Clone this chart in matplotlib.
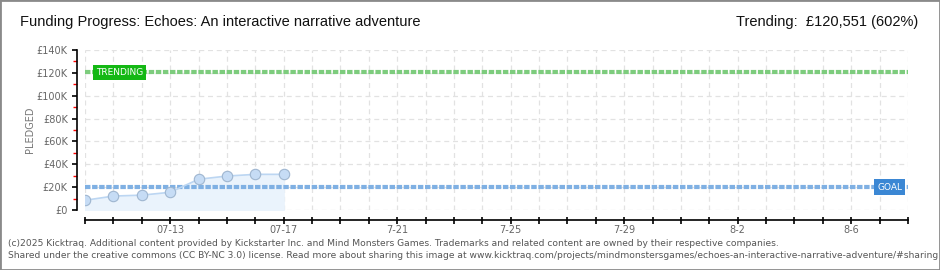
import numpy as np
import matplotlib
matplotlib.use("Agg")
import matplotlib.pyplot as plt
import matplotlib.dates as mdates
import matplotlib.transforms as mtransforms
from matplotlib.ticker import FuncFormatter, MultipleLocator

# data
dates = ["2025-07-10", "2025-07-11", "2025-07-12", "2025-07-13",
         "2025-07-14", "2025-07-15", "2025-07-16", "2025-07-17"]
pledged = [8500, 12200, 13000, 15500, 26900, 29700, 31200, 31200]
goal = 20000
trending = 120551
tick_dates = ["2025-07-13", "2025-07-17", "2025-07-21", "2025-07-25",
              "2025-07-29", "2025-08-02", "2025-08-06"]
tick_labels = ["07-13", "07-17", "7-21", "7-25", "7-29", "8-2", "8-6"]
x_start, x_end = "2025-07-10", "2025-08-08"

plt.rcParams["font.family"] = ["DejaVu Sans"]
PX = 0.72  # points per pixel at 100 dpi

x = mdates.date2num(np.array(dates, dtype="datetime64[D]"))
x0 = mdates.date2num(np.datetime64(x_start))
x1 = mdates.date2num(np.datetime64(x_end))

fig = plt.figure(figsize=(9.4, 2.7), dpi=100)
fig.patches.append(plt.Rectangle((0, 0), 1, 1, transform=fig.transFigure,
                                 fill=False, edgecolor="#8a8a8a", lw=2))
ax = fig.add_axes([85 / 940, 60 / 270, 823 / 940, 160 / 270])

# funding curve
ax.fill_between(x, pledged, 0, color="#eaf3fc", zorder=1)
ax.plot(x, pledged, color="#bcd6f2", lw=1.2, zorder=3,
        marker="o", ms=7.5, mfc="#c6dcf5", mec="#9fb6d0", mew=0.8)

# goal / trending lines
ax.axhline(goal, color="#7fb0e3", lw=3, ls=(0, (1.3, 0.4)), zorder=2)
ax.axhline(trending, color="#7dcc7d", lw=3, ls=(0, (1.3, 0.4)), zorder=2)
blend = mtransforms.blended_transform_factory(ax.transAxes, ax.transData)
ax.text(11 / 823, trending, "TRENDING", transform=blend, color="white",
        fontsize=6.5, va="center", ha="left",
        bbox=dict(boxstyle="square,pad=0.35", fc="#14b814", ec="none"), zorder=5)
ax.text(817 / 823, goal, "GOAL", transform=blend, color="white",
        fontsize=6.5, va="center", ha="right",
        bbox=dict(boxstyle="square,pad=0.35", fc="#3b87d4", ec="none"), zorder=5)

ax.set_xlim(x0, x1)
ax.set_ylim(0, 140000)

# axes styling
for s in ["top", "right"]:
    ax.spines[s].set_visible(False)
ax.spines["left"].set_position(("outward", 8 * PX))
ax.spines["bottom"].set_position(("outward", 10 * PX))
ax.spines["left"].set_linewidth(1.2)
ax.spines["bottom"].set_linewidth(1.2)

ax.yaxis.set_major_locator(MultipleLocator(20000))
ax.yaxis.set_minor_locator(MultipleLocator(10000))
ax.yaxis.set_major_formatter(FuncFormatter(
    lambda v, p: "£0" if v == 0 else "£%dK" % (v / 1000)))
ax.tick_params(axis="y", which="major", length=5 * PX, width=1.2, color="black",
               labelsize=7, labelcolor="#666666", pad=3)
ax.tick_params(axis="y", which="minor", length=4 * PX, width=1, color="red")

day_ticks = np.arange(x0, x1 + 1)
ax.set_xticks(day_ticks)
lab = {mdates.date2num(np.datetime64(d)): l for d, l in zip(tick_dates, tick_labels)}
ax.set_xticklabels([lab.get(t, "") for t in day_ticks])
ax.tick_params(axis="x", length=7 * PX, width=1.2, direction="inout",
               labelsize=7, labelcolor="#666666", pad=1)

ax.grid(True, color="#e2e2e2", ls=(0, (4, 3)), lw=0.9, zorder=0)
ax.set_axisbelow(True)

fig.text(30 / 940, 1 - 130 / 270, "PLEDGED", rotation=90, ha="center",
         va="center", fontsize=7, color="#777777")

# titles
fig.text(20 / 940, 1 - 22 / 270,
         "Funding Progress: Echoes: An interactive narrative adventure",
         fontsize=10.5, color="#111111", va="center", ha="left",
         family="Liberation Sans")
fig.text(918 / 940, 1 - 22 / 270, "Trending:  £120,551 (602%)",
         fontsize=10.5, color="#111111", va="center", ha="right",
         family="Liberation Sans")

# footer
fig.text(8 / 940, 1 - 243 / 270,
         "(c)2025 Kicktraq. Additional content provided by Kickstarter Inc. and Mind Monsters Games. "
         "Trademarks and related content are owned by their respective companies.",
         fontsize=6.6, color="#555555", va="center", ha="left")
fig.text(8 / 940, 1 - 256 / 270,
         "Shared under the creative commons (CC BY-NC 3.0) license. Read more about sharing this image at "
         "www.kicktraq.com/projects/mindmonstersgames/echoes-an-interactive-narrative-adventure/#sharing",
         fontsize=6.6, color="#555555", va="center", ha="left")

fig.savefig("out.png", dpi=100)
